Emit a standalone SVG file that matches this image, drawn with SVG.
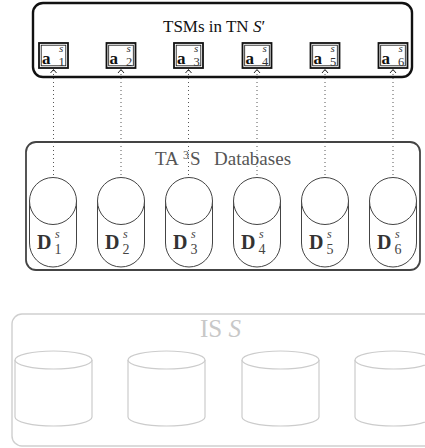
<svg xmlns="http://www.w3.org/2000/svg" width="425" height="448" viewBox="0 0 425 448">
<style>
text{font-family:"Liberation Serif","DejaVu Serif",serif}
.frame1{fill:none;stroke:#111;stroke-width:2.4}
.frame2{fill:none;stroke:#444;stroke-width:1.8}
.frame3{fill:none;stroke:#cfcfcf;stroke-width:1.4}
.box{fill:#fff;stroke:#111;stroke-width:1.8}
.boxin{fill:none;stroke:#111;stroke-width:0.8}
.bv{font-weight:bold;font-size:17px;fill:#111}
.sup{font-style:italic;font-size:11px;fill:#333}
.sub{font-size:12.5px;fill:#333}
.dv{font-weight:bold;font-size:20px;fill:#333}
.dsup{font-style:italic;font-size:12px;fill:#444}
.dsub{font-size:14px;fill:#444}
.cyl{fill:#fff;stroke:#444;stroke-width:1}
.gcyl{fill:#fff;stroke:#cccccc;stroke-width:1.2}
.dot{fill:none;stroke:#555;stroke-width:1;stroke-dasharray:1 3}
.head{fill:none;stroke:#111;stroke-width:0.9}
</style>

<g id="is-frame">
<rect class="frame3" x="12" y="314" width="430" height="132" rx="10"/>
<text x="200" y="337" font-size="25" fill="#c8c8c8">IS <tspan font-style="italic">S</tspan></text>
</g>
<g id="is-db1"><path class="gcyl" d="M15,360 L15,417 A38.5,9 0 0 0 92,417 L92,360"/><ellipse class="gcyl" cx="53.5" cy="360" rx="38.5" ry="9"/></g>
<g id="is-db2"><path class="gcyl" d="M128,360 L128,417 A38.5,9 0 0 0 205,417 L205,360"/><ellipse class="gcyl" cx="166.5" cy="360" rx="38.5" ry="9"/></g>
<g id="is-db3"><path class="gcyl" d="M242,360 L242,417 A38.5,9 0 0 0 319,417 L319,360"/><ellipse class="gcyl" cx="280.5" cy="360" rx="38.5" ry="9"/></g>
<g id="is-db4"><path class="gcyl" d="M355,360 L355,417 A38.5,9 0 0 0 432,417 L432,360"/><ellipse class="gcyl" cx="393.5" cy="360" rx="38.5" ry="9"/></g>

<g id="ta3s-frame">
<rect class="frame2" x="26" y="142" width="394" height="128" rx="10"/>
<text y="165" font-size="19" fill="#555"><tspan x="155">TA</tspan><tspan x="183" y="159" font-size="12">3</tspan><tspan x="190" y="165">S</tspan><tspan x="214">Databases</tspan></text>
</g>

<g id="top-frame">
<rect class="frame1" x="33" y="3" width="379" height="74" rx="10"/>
<text x="163" y="32" font-size="17" fill="#111">TSMs in TN <tspan font-style="italic">S</tspan>′</text>
</g>

<g id="connectors">
<line class="dot" x1="53.5" y1="70" x2="53.5" y2="177"/>
<line class="dot" x1="121" y1="70" x2="121" y2="177"/>
<line class="dot" x1="188.5" y1="70" x2="188.5" y2="177"/>
<line class="dot" x1="257" y1="70" x2="257" y2="177"/>
<line class="dot" x1="325" y1="70" x2="325" y2="177"/>
<line class="dot" x1="393" y1="70" x2="393" y2="177"/>
<path class="head" d="M50.5,73 L53.5,69.5 L56.5,73"/>
<path class="head" d="M118,73 L121,69.5 L124,73"/>
<path class="head" d="M185.5,73 L188.5,69.5 L191.5,73"/>
<path class="head" d="M254,73 L257,69.5 L260,73"/>
<path class="head" d="M322,73 L325,69.5 L328,73"/>
<path class="head" d="M390,73 L393,69.5 L396,73"/>
</g>

<g id="tsm1"><rect class="box" x="39" y="43" width="29" height="25"/><rect class="boxin" x="41.2" y="45.2" width="24.6" height="20.6"/><text class="bv" x="42" y="63.5">a</text><text class="sup" x="59" y="52">s</text><text class="sub" x="58.5" y="65.5">1</text></g>
<g id="tsm2"><rect class="box" x="106.5" y="43" width="29" height="25"/><rect class="boxin" x="108.7" y="45.2" width="24.6" height="20.6"/><text class="bv" x="109.5" y="63.5">a</text><text class="sup" x="126.5" y="52">s</text><text class="sub" x="126" y="65.5">2</text></g>
<g id="tsm3"><rect class="box" x="174" y="43" width="29" height="25"/><rect class="boxin" x="176.2" y="45.2" width="24.6" height="20.6"/><text class="bv" x="177" y="63.5">a</text><text class="sup" x="194" y="52">s</text><text class="sub" x="193.5" y="65.5">3</text></g>
<g id="tsm4"><rect class="box" x="242.5" y="43" width="29" height="25"/><rect class="boxin" x="244.7" y="45.2" width="24.6" height="20.6"/><text class="bv" x="245.5" y="63.5">a</text><text class="sup" x="262.5" y="52">s</text><text class="sub" x="262" y="65.5">4</text></g>
<g id="tsm5"><rect class="box" x="310.5" y="43" width="29" height="25"/><rect class="boxin" x="312.7" y="45.2" width="24.6" height="20.6"/><text class="bv" x="313.5" y="63.5">a</text><text class="sup" x="330.5" y="52">s</text><text class="sub" x="330" y="65.5">5</text></g>
<g id="tsm6"><rect class="box" x="378.5" y="43" width="29" height="25"/><rect class="boxin" x="380.7" y="45.2" width="24.6" height="20.6"/><text class="bv" x="381.5" y="63.5">a</text><text class="sup" x="398.5" y="52">s</text><text class="sub" x="398" y="65.5">6</text></g>

<g id="db1"><path class="cyl" d="M29.5,201 L29.5,243 A23.5,24 0 0 0 76.5,243 L76.5,201"/><circle class="cyl" cx="53" cy="201" r="23.5"/><text class="dv" x="37" y="249">D</text><text class="dsup" x="55" y="238">s</text><text class="dsub" x="54.5" y="254">1</text></g>
<g id="db2"><path class="cyl" d="M97.5,201 L97.5,243 A23.5,24 0 0 0 144.5,243 L144.5,201"/><circle class="cyl" cx="121" cy="201" r="23.5"/><text class="dv" x="105" y="249">D</text><text class="dsup" x="123" y="238">s</text><text class="dsub" x="122.5" y="254">2</text></g>
<g id="db3"><path class="cyl" d="M165.5,201 L165.5,243 A23.5,24 0 0 0 212.5,243 L212.5,201"/><circle class="cyl" cx="189" cy="201" r="23.5"/><text class="dv" x="173" y="249">D</text><text class="dsup" x="191" y="238">s</text><text class="dsub" x="190.5" y="254">3</text></g>
<g id="db4"><path class="cyl" d="M233.5,201 L233.5,243 A23.5,24 0 0 0 280.5,243 L280.5,201"/><circle class="cyl" cx="257" cy="201" r="23.5"/><text class="dv" x="241" y="249">D</text><text class="dsup" x="259" y="238">s</text><text class="dsub" x="258.5" y="254">4</text></g>
<g id="db5"><path class="cyl" d="M301.5,201 L301.5,243 A23.5,24 0 0 0 348.5,243 L348.5,201"/><circle class="cyl" cx="325" cy="201" r="23.5"/><text class="dv" x="309" y="249">D</text><text class="dsup" x="327" y="238">s</text><text class="dsub" x="326.5" y="254">5</text></g>
<g id="db6"><path class="cyl" d="M369.5,201 L369.5,243 A23.5,24 0 0 0 416.5,243 L416.5,201"/><circle class="cyl" cx="393" cy="201" r="23.5"/><text class="dv" x="377" y="249">D</text><text class="dsup" x="395" y="238">s</text><text class="dsub" x="394.5" y="254">6</text></g>
</svg>
